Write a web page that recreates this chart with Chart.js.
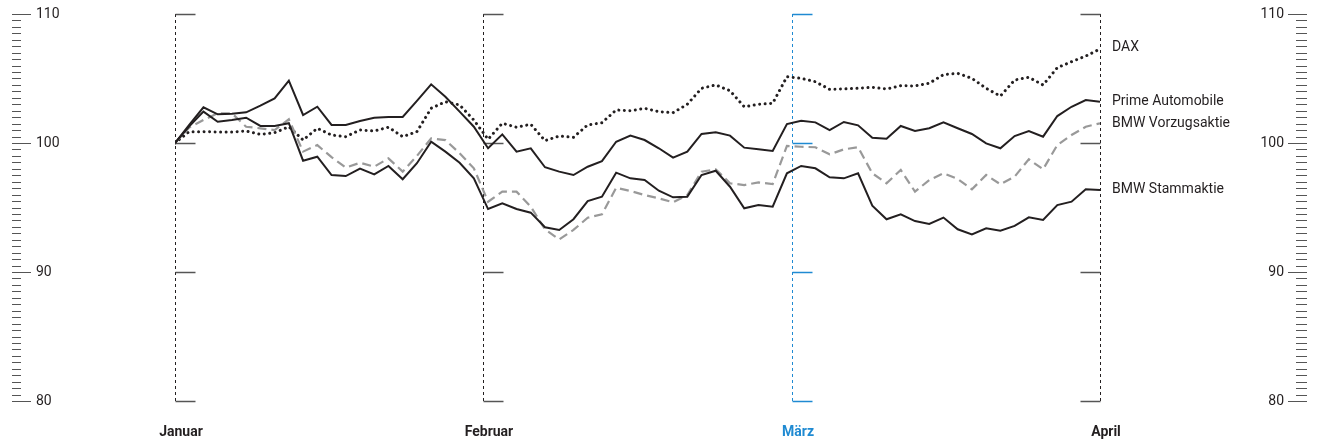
<!DOCTYPE html>
<html>
<head>
<meta charset="utf-8">
<script src="https://cdn.jsdelivr.net/npm/chart.js@4"></script>
<style>
  html, body { margin: 0; padding: 0; background: #fff; }
  #chart { display: block; }
</style>
</head>
<body>
<canvas id="chart" width="1321" height="446"></canvas>
<script>
// Index, Handelstage ab Jahresbeginn (0 = 100)
const primeAutomobile = [100, 101.4, 102.77, 102.22, 102.27, 102.38, 102.89, 103.46, 104.83, 102.17, 102.81,
  101.4, 101.4, 101.71, 101.96, 102.02, 102.02, 103.26, 104.55, 103.59, 102.43, 101.26,
  99.59, 100.67, 99.33, 99.59, 98.12, 97.78, 97.52, 98.16, 98.6, 100.1, 100.57,
  100.23, 99.59, 98.86, 99.33, 100.7, 100.83, 100.57, 99.64, 99.51, 99.38, 101.47,
  101.73, 101.6, 101.0, 101.63, 101.37, 100.41, 100.33, 101.32, 100.93, 101.14, 101.6,
  101.14, 100.7, 99.97, 99.59, 100.54, 100.93, 100.49, 102.09, 102.81, 103.33, 103.2];
const bmwVorzug = [100, 101.2, 101.78, 102.3, 102.3, 101.26, 101.14, 101.0, 101.84, 99.33, 99.84,
  98.9, 98.09, 98.47, 98.16, 98.81, 97.78, 99.0, 100.36, 100.23, 99.2, 98.04,
  95.45, 96.23, 96.23, 95.06, 93.31, 92.53, 93.26, 94.21, 94.47, 96.53, 96.28,
  95.97, 95.71, 95.4, 95.97, 97.78, 97.96, 96.88, 96.74, 96.95, 96.82, 99.77,
  99.71, 99.67, 99.12, 99.51, 99.67, 97.65, 96.88, 97.91, 96.23, 97.13, 97.65,
  97.21, 96.41, 97.52, 96.8, 97.39, 98.74, 97.96, 99.84, 100.62, 101.26, 101.53];
const bmwStamm = [100, 101.3, 102.43, 101.65, 101.78, 101.96, 101.32, 101.32, 101.53, 98.63, 98.94,
  97.52, 97.44, 98.01, 97.57, 98.22, 97.19, 98.43, 100.1, 99.33, 98.47, 97.26,
  94.88, 95.33, 94.88, 94.6, 93.47, 93.26, 94.09, 95.5, 95.84, 97.7, 97.26,
  97.13, 96.3, 95.79, 95.84, 97.52, 97.85, 96.61, 94.94, 95.19, 95.06, 97.65,
  98.22, 98.04, 97.34, 97.26, 97.65, 95.14, 94.09, 94.47, 93.95, 93.72, 94.22,
  93.31, 92.92, 93.39, 93.2, 93.57, 94.24, 94.03, 95.19, 95.45, 96.41, 96.36];
const dax = [100, 100.88, 100.88, 100.85, 100.85, 100.93, 100.67, 100.8, 101.26, 100.23, 101.14,
  100.62, 100.49, 101.01, 100.93, 101.22, 100.49, 100.88, 102.69, 103.2, 102.95, 101.78,
  100.29, 101.53, 101.22, 101.45, 100.18, 100.54, 100.44, 101.4, 101.57, 102.56, 102.5,
  102.69, 102.43, 102.35, 103.0, 104.24, 104.5, 104.05, 102.81, 103.0, 103.08, 105.14,
  105.01, 104.75, 104.16, 104.19, 104.24, 104.32, 104.19, 104.44, 104.42, 104.63, 105.3,
  105.4, 105.01, 104.24, 103.64, 104.88, 105.09, 104.5, 105.84, 106.3, 106.74, 107.29];

const monthLabels = ['Januar', 'Februar', 'März', 'April'];
const monthStarts = [0, 21.64, 43.36, 65];   // Lage der Monatsgrenzen auf der Tagesachse
const yTicks = [80, 90, 100, 110];

const INK = '#231f20';
const BLUE = '#1f8ad2';
const FONT = 'Roboto, "Liberation Sans", sans-serif';

const toPoints = arr => arr.map((v, i) => ({ x: i, y: v }));

// Achsen, Monatslinien und Beschriftungen
const decorations = {
  id: 'decorations',
  beforeDatasetsDraw(chart) {
    const { ctx } = chart;
    const x = chart.scales.x, y = chart.scales.y;
    ctx.save();

    // Monatslinien
    monthStarts.forEach((m, i) => {
      const px = Math.round(x.getPixelForValue(m)) + 0.5;
      const col = monthLabels[i] === 'März' ? BLUE : INK;
      ctx.strokeStyle = col;
      ctx.lineWidth = 1;
      ctx.setLineDash([3, 3]);
      ctx.beginPath();
      ctx.moveTo(px, y.getPixelForValue(110));
      ctx.lineTo(px, y.getPixelForValue(80));
      ctx.stroke();
      ctx.setLineDash([]);
      ctx.strokeStyle = monthLabels[i] === 'März' ? BLUE : '#555';
      ctx.lineWidth = 1.5;
      const dir = i === monthStarts.length - 1 ? -1 : 1;
      yTicks.forEach(t => {
        const py = Math.round(y.getPixelForValue(t)) + 0.5;
        ctx.beginPath();
        ctx.moveTo(px, py);
        ctx.lineTo(px + dir * 20, py);
        ctx.stroke();
      });
    });

    // Linkes und rechtes Lineal
    ctx.strokeStyle = '#555';
    ctx.lineWidth = 1.2;
    for (let v = 80; v <= 110; v += 0.5) {
      const py = Math.round(y.getPixelForValue(v)) + 0.5;
      const major = v % 10 === 0;
      ctx.beginPath();
      ctx.moveTo(12, py);
      ctx.lineTo(major ? 31 : 21, py);
      ctx.moveTo(major ? 1288 : 1296, py);
      ctx.lineTo(1307, py);
      ctx.stroke();
    }
    ctx.fillStyle = INK;
    ctx.font = '14px ' + FONT;
    ctx.textBaseline = 'middle';
    yTicks.forEach(t => {
      const py = y.getPixelForValue(t);
      ctx.textAlign = 'left';
      ctx.fillText(String(t), 36, py);
      ctx.textAlign = 'right';
      ctx.fillText(String(t), 1284, py);
    });

    // Monatsnamen
    ctx.font = 'bold 14px ' + FONT;
    ctx.textAlign = 'center';
    monthStarts.forEach((m, i) => {
      ctx.fillStyle = monthLabels[i] === 'März' ? BLUE : INK;
      ctx.fillText(monthLabels[i], x.getPixelForValue(m) + 6, 432);
    });
    ctx.restore();
  },
  afterDatasetsDraw(chart) {
    const { ctx } = chart;
    const y = chart.scales.y;
    ctx.save();
    ctx.fillStyle = INK;
    ctx.font = '14px ' + FONT;
    ctx.textAlign = 'left';
    ctx.textBaseline = 'middle';
    chart.data.datasets.forEach(ds => {
      const last = ds.data[ds.data.length - 1].y;
      ctx.fillText(ds.label, chart.chartArea.right + 12, y.getPixelForValue(last) + ds.labelShift);
    });
    ctx.restore();
  }
};

new Chart(document.getElementById('chart'), {
  type: 'line',
  data: {
    datasets: [
      { label: 'Prime Automobile', data: toPoints(primeAutomobile), borderColor: INK, borderWidth: 2, labelShift: 0 },
      { label: 'BMW Stammaktie', data: toPoints(bmwStamm), borderColor: INK, borderWidth: 2, labelShift: 0 },
      { label: 'BMW Vorzugsaktie', data: toPoints(bmwVorzug), borderColor: '#999999', borderWidth: 2.2,
        borderDash: [9, 5], labelShift: 0 },
      { label: 'DAX', data: toPoints(dax), borderColor: INK, borderWidth: 3,
        borderDash: [0.01, 5.5], borderCapStyle: 'round', labelShift: -1 }
    ]
  },
  options: {
    responsive: false,
    animation: false,
    events: [],
    layout: { padding: { left: 175, right: 221, top: 14, bottom: 45 } },
    elements: { point: { radius: 0 }, line: { tension: 0 } },
    plugins: { legend: { display: false }, tooltip: { enabled: false } },
    scales: {
      x: { type: 'linear', min: 0, max: 65, display: false },
      y: { type: 'linear', min: 80, max: 110, display: false }
    }
  },
  plugins: [decorations]
});
</script>
</body>
</html>
